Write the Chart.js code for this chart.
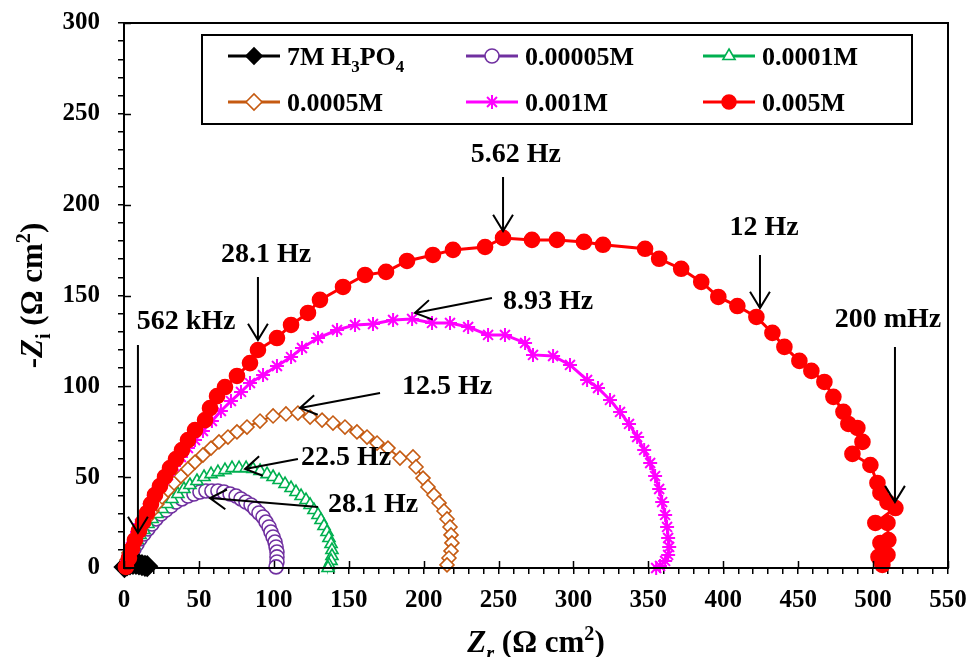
<!DOCTYPE html>
<html>
<head>
<meta charset="utf-8">
<script src="https://cdn.jsdelivr.net/npm/chart.js"></script>
<style>
  html, body { margin: 0; padding: 0; background: #fff; }
  canvas { display: block; }
</style>
</head>
<body>
<canvas id="nyquist" width="970" height="657"></canvas>
<script>
// Nyquist data, Zr and -Zi in ohm cm2

const zr7M = [0.3, 2, 4, 6, 8, 10, 12, 14, 15.5];
const zi7M = [0.5, 1.4, 2.0, 2.3, 2.3, 2.0, 1.6, 1.2, 1.0];

const zr00005 = [0.7, 2.0, 3.3, 4.7, 6.7, 8.7, 10.7, 13.3, 16.0, 18.7, 21.4, 24.7, 28.0, 31.4, 34.7, 38.7, 42.7, 46.7, 50.7, 54.7, 58.7, 62.7, 66.7, 70.8, 74.8, 78.1, 81.4, 84.8, 87.4, 90.1, 92.8, 94.8, 96.8, 98.1, 99.5, 100.8, 101.5, 102.1, 102.1, 102.1, 101.5];
const zi00005 = [0.6, 2.8, 5.5, 7.7, 10.5, 13.2, 16.0, 18.7, 21.5, 24.2, 27.0, 29.7, 31.9, 34.1, 36.3, 38.0, 39.6, 40.7, 41.8, 42.4, 42.4, 42.4, 41.8, 40.7, 39.6, 38.0, 36.3, 34.7, 32.5, 30.3, 28.1, 25.3, 22.6, 19.8, 17.1, 14.3, 11.6, 8.8, 6.1, 3.3, 0.6];

const zr0001 = [0.7, 2.0, 3.3, 4.7, 6.7, 8.7, 10.7, 13.3, 16.0, 18.7, 22.0, 25.4, 28.7, 32.0, 36.0, 40.0, 44.0, 48.7, 53.4, 58.1, 62.7, 67.4, 72.1, 76.8, 81.5, 86.1, 90.8, 95.5, 99.5, 103.5, 107.5, 111.5, 114.8, 118.2, 121.5, 124.2, 126.8, 129.5, 131.5, 133.5, 135.5, 136.8, 138.2, 138.8, 138.8, 138.2, 136.8, 136.2];
const zi0001 = [0.6, 3.3, 6.6, 9.4, 12.7, 15.4, 18.2, 20.9, 24.2, 27.0, 29.7, 32.5, 35.2, 38.0, 40.7, 43.5, 45.7, 47.9, 50.1, 51.7, 52.8, 53.9, 55.0, 55.0, 55.0, 54.5, 53.4, 51.7, 50.1, 48.4, 46.2, 44.0, 41.8, 39.6, 37.4, 34.7, 31.9, 29.2, 26.4, 23.1, 19.8, 16.5, 13.2, 9.9, 6.6, 3.9, 1.7, 0];

const zr0005 = [0.7, 2.0, 3.3, 5.3, 7.3, 10.0, 12.7, 15.4, 18.7, 22.0, 25.4, 29.4, 33.4, 38.0, 42.7, 47.4, 52.7, 58.1, 63.4, 69.4, 75.4, 82.1, 90.8, 99.5, 108.1, 116.1, 124.2, 132.2, 139.5, 147.5, 155.5, 162.2, 168.9, 176.2, 184.2, 192.9, 194.9, 199.6, 202.9, 206.9, 210.3, 213.6, 215.6, 217.6, 218.3, 218.9, 218.3, 216.9, 215.6];
const zi0005 = [0.6, 4.4, 8.3, 12.1, 16.0, 19.8, 23.7, 27.5, 31.4, 35.2, 39.1, 42.9, 46.8, 50.6, 54.5, 58.3, 62.2, 66.0, 69.4, 72.1, 74.9, 77.6, 80.9, 83.7, 84.8, 85.3, 83.1, 81.4, 79.8, 77.6, 74.9, 72.1, 68.8, 66.0, 60.5, 61.1, 55.6, 49.5, 44.6, 40.2, 35.8, 31.4, 27.0, 22.6, 18.2, 13.8, 9.4, 5.5, 1.7];

const zr001 = [0.7, 2.0, 3.3, 4.7, 6.7, 8.7, 10.7, 13.3, 16.0, 18.7, 22.0, 25.4, 29.4, 33.4, 38.0, 42.7, 47.4, 52.7, 58.7, 64.7, 71.4, 78.1, 84.1, 92.8, 102.1, 111.5, 118.8, 129.5, 142.2, 154.2, 166.2, 179.6, 192.3, 205.6, 217.6, 229.7, 243.0, 254.3, 267.7, 273.0, 286.4, 297.7, 309.1, 316.4, 324.4, 331.1, 337.1, 342.5, 347.2, 351.2, 354.5, 357.2, 359.2, 361.2, 362.5, 363.2, 363.9, 363.2, 361.2, 357.8, 355.2];
const zi001 = [0.6, 3.9, 7.7, 11.6, 15.4, 19.8, 24.2, 28.6, 33.0, 37.4, 41.8, 46.2, 51.2, 56.1, 61.1, 66.0, 70.4, 75.4, 80.9, 86.4, 91.9, 96.9, 101.8, 106.2, 111.2, 116.1, 121.1, 126.6, 131.0, 133.8, 134.3, 136.5, 137.1, 134.9, 134.9, 132.7, 128.3, 128.3, 123.9, 117.3, 116.7, 111.8, 103.5, 99.1, 92.5, 85.9, 79.3, 72.1, 65.0, 57.8, 50.6, 43.5, 36.3, 29.2, 22.6, 16.5, 11.6, 7.2, 3.9, 1.1, 0];

const zr005 = [1.3, 3.3, 5.3, 7.3, 10.0, 12.7, 15.4, 18.0, 20.7, 24.0, 27.4, 30.7, 34.7, 38.7, 42.7, 47.4, 54.1, 57.4, 62.1, 67.4, 75.4, 84.1, 89.4, 102.1, 111.5, 122.8, 130.8, 146.2, 160.9, 174.9, 188.9, 206.2, 219.6, 241.0, 253.0, 272.3, 289.0, 307.0, 319.7, 347.8, 357.2, 371.9, 385.3, 396.7, 409.4, 422.1, 432.8, 440.8, 450.8, 458.8, 467.5, 473.5, 480.2, 483.5, 489.5, 492.9, 486.2, 498.2, 502.9, 504.9, 509.6, 514.9, 501.5, 509.6, 510.2, 504.9, 509.6, 503.6, 506.2];
const zi005 = [0.6, 5.5, 10.5, 15.4, 20.4, 25.3, 30.3, 35.2, 40.2, 45.1, 50.1, 55.0, 60.0, 64.9, 70.4, 75.9, 81.4, 88.0, 94.6, 99.6, 105.7, 112.8, 120.0, 126.6, 133.8, 140.4, 147.6, 154.7, 161.3, 163.0, 169.0, 172.3, 175.1, 176.7, 181.7, 180.6, 180.6, 179.5, 177.9, 175.7, 170.2, 164.7, 157.5, 149.2, 144.2, 138.2, 129.4, 121.7, 114.0, 108.5, 102.4, 94.2, 86.0, 79.3, 77.1, 69.4, 62.8, 56.7, 46.8, 41.3, 36.3, 33.0, 24.8, 24.8, 15.4, 13.8, 7.2, 6.1, 1.7];

const xTicks = [0, 50, 100, 150, 200, 250, 300, 350, 400, 450, 500, 550];
const yTicks = [0, 50, 100, 150, 200, 250, 300];

// frequency labels: text, text centre, arrow start, arrow tip (data units)
const freqLabels = [
  ['5.62 Hz', 261.6, 227.3, 253.0, 215.2, 253.0, 185.5],
  ['8.93 Hz', 283.0, 146.4, 245.6, 148.6, 194.2, 140.4],
  ['12 Hz', 427.2, 187.2, 424.5, 172.3, 424.5, 143.1],
  ['200 mHz', 509.9, 136.5, 514.6, 121.6, 514.6, 36.3],
  ['28.1 Hz', 94.8, 172.3, 89.4, 160.2, 89.4, 125.5],
  ['562 kHz', 41.4, 135.4, 9.3, 122.7, 9.3, 19.3],
  ['12.5 Hz', 215.6, 99.6, 170.9, 96.3, 117.5, 88.1],
  ['22.5 Hz', 148.2, 60.5, 116.1, 60.0, 80.8, 54.5],
  ['28.1 Hz', 166.2, 34.7, 129.5, 33.6, 57.4, 38.5]
];

const FONT = "'Liberation Serif', 'Times New Roman', serif";
Chart.defaults.font.family = FONT;
Chart.defaults.font.weight = 'bold';

function pts(zr, zi) {
  return zr.map((v, i) => ({ x: v, y: zi[i] }));
}

function series(label, zr, zi, color, style, radius, filled, width, order) {
  return {
    label: label,
    data: pts(zr, zi),
    showLine: true,
    clip: false,
    borderColor: color,
    borderWidth: width,
    pointStyle: style,
    pointRadius: radius,
    pointBorderColor: color,
    pointBackgroundColor: filled ? color : '#ffffff',
    pointBorderWidth: style === 'star' ? 2 : 1.6,
    order: order
  };
}

// text made of runs, some of them sub- or superscript
function drawRuns(ctx, runs, x, y, size) {
  let cx = x;
  ctx.textAlign = 'left';
  ctx.textBaseline = 'alphabetic';
  runs.forEach(r => {
    const s = (r.sub || r.sup) ? size * 0.65 : size;
    ctx.font = (r.it ? 'italic ' : '') + 'bold ' + s + 'px ' + FONT;
    const dy = r.sub ? size * 0.25 : (r.sup ? -size * 0.38 : 0);
    ctx.fillText(r.t, cx, y + dy);
    cx += ctx.measureText(r.t).width;
  });
}

function runsWidth(ctx, runs, size) {
  let total = 0;
  runs.forEach(r => {
    const s = (r.sub || r.sup) ? size * 0.65 : size;
    ctx.font = (r.it ? 'italic ' : '') + 'bold ' + s + 'px ' + FONT;
    total += ctx.measureText(r.t).width;
  });
  return total;
}

function arrow(ctx, x1, y1, x2, y2) {
  const ang = Math.atan2(y2 - y1, x2 - x1);
  const L = 19, sp = 0.55;
  ctx.beginPath();
  ctx.moveTo(x1, y1);
  ctx.lineTo(x2, y2);
  ctx.moveTo(x2 - L * Math.cos(ang - sp), y2 - L * Math.sin(ang - sp));
  ctx.lineTo(x2, y2);
  ctx.lineTo(x2 - L * Math.cos(ang + sp), y2 - L * Math.sin(ang + sp));
  ctx.stroke();
}

const legendLabels = {
  '7M H3PO4': [{ t: '7M H' }, { t: '3', sub: 1 }, { t: 'PO' }, { t: '4', sub: 1 }]
};

const extras = {
  id: 'extras',
  afterDraw(chart) {
    const { ctx, chartArea: a, scales: { x, y } } = chart;
    ctx.save();
    ctx.strokeStyle = '#000';
    ctx.fillStyle = '#000';

    // frame
    ctx.lineWidth = 2;
    ctx.strokeRect(a.left, a.top, a.right - a.left, a.bottom - a.top);

    // inner half of the major ticks
    ctx.lineWidth = 1.5;
    ctx.beginPath();
    xTicks.forEach(v => {
      const px = Math.round(x.getPixelForValue(v)) + 0.5;
      ctx.moveTo(px, a.bottom);
      ctx.lineTo(px, a.bottom - 7);
    });
    yTicks.forEach(v => {
      const py = Math.round(y.getPixelForValue(v)) + 0.5;
      ctx.moveTo(a.left, py);
      ctx.lineTo(a.left + 7, py);
    });
    ctx.stroke();

    // frequency labels with arrows
    ctx.lineWidth = 2;
    freqLabels.forEach(f => {
      ctx.font = 'bold 28px ' + FONT;
      ctx.textAlign = 'center';
      ctx.textBaseline = 'middle';
      ctx.fillText(f[0], x.getPixelForValue(f[1]), y.getPixelForValue(f[2]));
      arrow(ctx, x.getPixelForValue(f[3]), y.getPixelForValue(f[4]),
        x.getPixelForValue(f[5]), y.getPixelForValue(f[6]));
    });

    // legend box
    const lx = a.left + 78, ly = a.top + 12, lw = 710, lh = 89;
    ctx.fillStyle = '#fff';
    ctx.fillRect(lx, ly, lw, lh);
    ctx.lineWidth = 2;
    ctx.strokeStyle = '#000';
    ctx.strokeRect(lx, ly, lw, lh);
    const colX = [lx + 26, lx + 264, lx + 501];
    const rowY = [ly + 21, ly + 67];
    chart.data.datasets.forEach((ds, k) => {
      const cx = colX[k % 3], cy = rowY[Math.floor(k / 3)];
      ctx.strokeStyle = ds.borderColor;
      ctx.lineWidth = 3;
      ctx.beginPath();
      ctx.moveTo(cx, cy);
      ctx.lineTo(cx + 52, cy);
      ctx.stroke();
      ctx.fillStyle = ds.pointBackgroundColor;
      ctx.strokeStyle = ds.pointBorderColor;
      ctx.lineWidth = ds.pointBorderWidth;
      Chart.helpers.drawPoint(ctx, {
        pointStyle: ds.pointStyle,
        radius: ds.pointStyle === 'rectRot' ? 8 : 7,
        borderWidth: ds.pointBorderWidth,
        rotation: 0
      }, cx + 26, cy);
      ctx.fillStyle = '#000';
      const runs = legendLabels[ds.label] || [{ t: ds.label }];
      drawRuns(ctx, runs, cx + 59, cy + 9, 26);
    });

    // axis titles
    ctx.fillStyle = '#000';
    const xRuns = [{ t: 'Z', it: 1 }, { t: 'r', it: 1, sub: 1 }, { t: ' (\u03A9 cm' }, { t: '2', sup: 1 }, { t: ')' }];
    const xw = runsWidth(ctx, xRuns, 31);
    drawRuns(ctx, xRuns, (a.left + a.right) / 2 - xw / 2, 652, 31);

    const yRuns = [{ t: '-' }, { t: 'Z', it: 1 }, { t: 'i', sub: 1 }, { t: ' (\u03A9 cm' }, { t: '2', sup: 1 }, { t: ')' }];
    const yw = runsWidth(ctx, yRuns, 31);
    ctx.translate(42, (a.top + a.bottom) / 2);
    ctx.rotate(-Math.PI / 2);
    drawRuns(ctx, yRuns, -yw / 2, 0, 31);

    ctx.restore();
  }
};

const tickFont = { family: FONT, size: 25, weight: 'bold' };

new Chart(document.getElementById('nyquist'), {
  type: 'scatter',
  data: {
    datasets: [
      series('7M H3PO4', zr7M, zi7M, '#000000', 'rectRot', 10, true, 2, 2),
      series('0.00005M', zr00005, zi00005, '#7030A0', 'circle', 7, false, 2, 5),
      series('0.0001M', zr0001, zi0001, '#00B050', 'triangle', 7, false, 2, 4),
      series('0.0005M', zr0005, zi0005, '#C55A11', 'rectRot', 7, false, 2, 3),
      series('0.001M', zr001, zi001, '#FF00FF', 'star', 7, false, 3, 1),
      series('0.005M', zr005, zi005, '#FF0000', 'circle', 7.5, true, 3, 0)
    ]
  },
  options: {
    responsive: false,
    animation: false,
    layout: { padding: { left: 0, right: 22, top: 23, bottom: 0 } },
    plugins: { legend: { display: false }, tooltip: { enabled: false } },
    scales: {
      x: {
        type: 'linear',
        min: 0,
        max: 550,
        afterFit(s) { s.height = 89; s.paddingLeft = 0; s.paddingRight = 0; },
        ticks: {
          stepSize: 10,
          autoSkip: false,
          maxRotation: 0,
          padding: 12,
          color: '#000',
          font: tickFont,
          callback: v => (v % 50 === 0 ? v : '')
        },
        grid: { drawOnChartArea: false, tickLength: 6, color: '#000', lineWidth: 1.5 },
        border: { color: '#000', width: 2 }
      },
      y: {
        type: 'linear',
        min: 0,
        max: 300,
        afterFit(s) { s.width = 124; s.paddingTop = 0; s.paddingBottom = 0; },
        ticks: {
          stepSize: 10,
          autoSkip: false,
          padding: 18,
          color: '#000',
          font: tickFont,
          callback: v => (v % 50 === 0 ? v : '')
        },
        grid: { drawOnChartArea: false, tickLength: 6, color: '#000', lineWidth: 1.5 },
        border: { color: '#000', width: 2 }
      }
    }
  },
  plugins: [extras]
});
</script>
</body>
</html>
